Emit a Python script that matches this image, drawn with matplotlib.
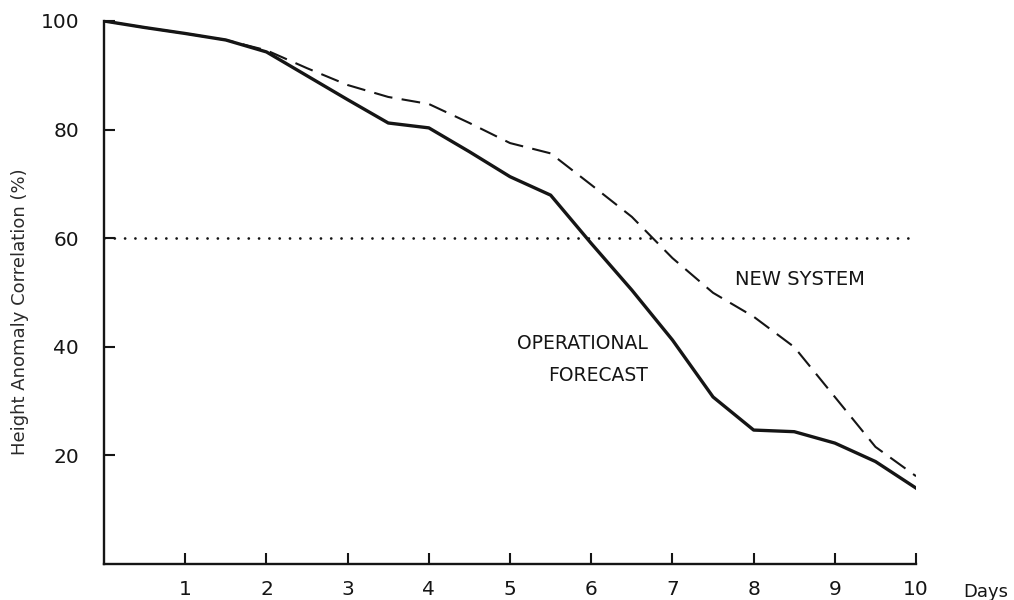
import matplotlib
matplotlib.use("Agg")
import matplotlib.pyplot as plt

# Forecast day (half-day steps)
days = [0, 0.5, 1, 1.5, 2, 2.5, 3, 3.5, 4, 4.5, 5, 5.5, 6, 6.5, 7, 7.5, 8, 8.5, 9, 9.5, 10]

# Height anomaly correlation (%)
operational = [100, 98.8, 97.7, 96.5, 94.3, 89.9, 85.5, 81.2, 80.3, 75.9, 71.3, 67.9,
               59.0, 50.4, 41.2, 30.7, 24.6, 24.3, 22.2, 18.8, 13.9]
new_system = [100, 98.8, 97.7, 96.5, 94.6, 91.3, 88.2, 86.0, 84.7, 81.2, 77.5, 75.6,
              69.8, 63.9, 56.3, 49.9, 45.5, 39.9, 30.7, 21.5, 16.1]

threshold = 60
x_ticks = [1, 2, 3, 4, 5, 6, 7, 8, 9, 10]
y_ticks = [20, 40, 60, 80, 100]

plt.rcParams['font.family'] = ['DejaVu Sans']

fig = plt.figure(figsize=(10.14, 6.0), dpi=100)
ax = fig.add_axes([0.1026, 0.0608, 0.8008, 0.9042])

ink = '#151515'
ax.plot(days, new_system, color=ink, lw=1.5, dashes=(9, 4.5), zorder=2)
ax.plot(days, operational, color=ink, lw=2.4, solid_joinstyle='round', zorder=3)
ax.plot([0, 9.98], [threshold, threshold], color=ink, lw=2.0,
        dashes=(0.01, 3.7), dash_capstyle='round', zorder=1)

ax.set_xlim(0, 10)
ax.set_ylim(0, 100)
ax.set_xticks(x_ticks)
ax.set_yticks(y_ticks)
ax.tick_params(axis='both', direction='in', length=8, width=1.5, colors=ink,
               labelsize=14.5)
ax.tick_params(axis='x', pad=12)
ax.tick_params(axis='y', pad=18)

for side in ('top', 'right'):
    ax.spines[side].set_visible(False)
for side in ('left', 'bottom'):
    ax.spines[side].set_linewidth(1.7)
    ax.spines[side].set_color(ink)

ax.set_ylabel('Height Anomaly Correlation (%)', fontsize=13, color='#2a2a2a',
              ha='center', va='center')
ax.yaxis.set_label_coords(-0.104, 0.465)

ax.text(10.58, -5.25, 'Days', fontsize=13, color=ink, ha='left', va='center',
        clip_on=False)

ax.text(8.57, 52.4, 'NEW SYSTEM', fontsize=14, color=ink, ha='center', va='center')
ax.text(6.70, 40.6, 'OPERATIONAL', fontsize=13.5, color=ink, ha='right', va='center')
ax.text(6.70, 34.6, 'FORECAST', fontsize=13.5, color=ink, ha='right', va='center')

fig.savefig('out.png', dpi=100, facecolor='white')
